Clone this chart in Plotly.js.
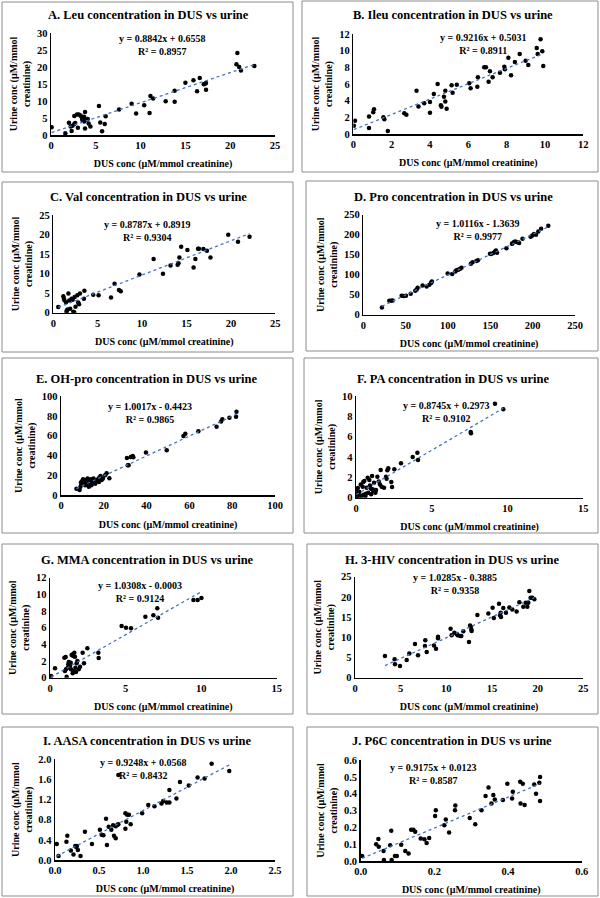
<!DOCTYPE html>
<html>
<head>
<meta charset="utf-8">
<script src="https://cdn.plot.ly/plotly-3.0.1.min.js"></script>
<style>html,body{margin:0;padding:0;background:#fff;}#chart{width:600px;height:898px;}</style>
</head>
<body>
<div id="chart"></div>
<script>
// ---------- DATA ----------
const panelTitles = [
  "A. Leu concentration in DUS vs urine",
  "B. Ileu concentration in DUS vs urine",
  "C. Val concentration in DUS vs urine",
  "D. Pro concentration in DUS vs urine",
  "E. OH-pro concentration in DUS vs urine",
  "F. PA concentration in DUS vs urine",
  "G. MMA concentration in DUS vs urine",
  "H. 3-HIV concentration in DUS vs urine",
  "I. AASA concentration in DUS vs urine",
  "J. P6C concentration in DUS vs urine"
];
const equations = [
  "y = 0.8842x + 0.6558", "y = 0.9216x + 0.5031", "y = 0.8787x + 0.8919",
  "y = 1.0116x - 1.3639", "y = 1.0017x - 0.4423", "y = 0.8745x + 0.2973",
  "y = 1.0308x - 0.0003", "y = 1.0285x - 0.3885", "y = 0.9248x + 0.0568",
  "y = 0.9175x + 0.0123"
];
const rSquared = ["0.8957","0.8911","0.9304","0.9977","0.9865","0.9102","0.9124","0.9358","0.8432","0.8587"];
const slopes = [0.8842, 0.9216, 0.8787, 1.0116, 1.0017, 0.8745, 1.0308, 1.0285, 0.9248, 0.9175];
const intercepts = [0.6558, 0.5031, 0.8919, -1.3639, -0.4423, 0.2973, -0.0003, -0.3885, 0.0568, 0.0123];
const xAxisTitle = "DUS conc (µM/mmol creatinine)";
const yAxisTitle = "Urine conc (µM/mmol<br>creatinine)";

const leuDUS = [0.07,1.6,2.0,2.2,2.3,2.4,2.6,2.7,2.6,3.0,3.1,3.3,3.4,3.5,3.5,3.6,3.7,3.8,3.7,3.9,4.1,4.2,4.4,3.8,2.9,5.35,5.5,5.7,6.0,6.1,7.6,9.0,9.5,10.4,11.0,11.1,11.4,12.8,13.8,13.8,15.0,15.9,16.3,16.6,17.05,17.2,17.3,17.3,20.8,20.7,21.0,21.2,22.7];
const leuUrine = [2.26,0.5,3.6,2.5,1.2,2.7,3.2,3.5,5.6,2.1,6.0,5.7,5.4,4.6,4.4,4.9,5.4,6.8,4.0,4.4,4.7,3.4,2.5,1.9,6.0,8.55,3.7,1.1,3.2,5.5,7.5,9.2,6.3,8.75,6.5,11.5,10.7,9.9,13.0,9.8,15.4,16.1,12.9,16.8,14.9,15.1,15.3,13.3,24.1,20.8,20.0,19.0,20.3];

const ileuDUS = [0.03,0.09,0.82,0.82,1.04,1.08,1.57,1.62,1.8,2.66,2.77,3.3,3.4,3.7,4.0,4.0,4.2,4.4,4.57,4.6,4.73,4.8,4.8,4.87,5.13,5.18,5.4,6.05,6.12,6.47,6.5,6.83,6.92,7.06,7.13,7.27,7.65,7.88,7.91,8.09,8.23,8.43,8.68,8.99,9.13,9.57,9.62,9.77,9.86,9.91];
const ileuUrine = [1.0,1.6,2.1,0.72,2.6,2.96,2.0,1.76,0.36,2.48,2.32,5.2,3.3,3.7,3.84,2.56,4.8,6.0,3.44,3.28,4.48,5.2,3.9,3.04,5.84,4.96,5.9,6.08,5.48,5.68,6.8,8.0,8.0,6.28,7.52,6.8,7.36,8.08,7.76,9.16,7.04,8.64,9.6,8.8,8.28,10.32,9.6,11.36,9.92,8.16];

const valDUS = [0.56,1.13,1.2,1.24,1.43,1.5,1.5,1.6,1.7,1.8,1.9,2.06,2.18,2.25,2.36,2.4,2.5,2.7,2.8,2.9,3.0,3.45,3.5,4.5,5.1,6.5,6.9,7.4,7.6,9.7,11.3,12.35,13.2,14.0,14.1,14.2,14.4,15.1,15.8,16.0,16.3,16.4,16.9,17.3,17.7,19.7,20.8,22.1];
const valUrine = [1.46,4.2,3.6,3.25,2.7,0.5,0.1,0.8,4.9,3.1,1.0,3.6,3.3,0.26,0.1,4.0,1.54,4.45,2.6,2.2,4.9,3.6,5.65,4.6,4.45,3.9,7.4,5.8,5.5,9.8,13.8,10.0,12.1,12.3,12.7,14.2,16.9,16.1,11.6,13.8,16.4,16.4,16.35,15.9,14.2,20.0,18.2,19.5];

const proDUS = [22,30.7,32.7,34.6,45.3,47.6,50.4,56,61.4,63,64.2,70,74.8,78,80,80.7,81,99.6,105,108.7,110,112,114,116,127,129,133.5,135.4,149.6,151,153.5,155.5,156.7,158,169,175.6,176,178,179.5,182,184,188,197.6,199.6,201.6,204,206.7,210,218.5];
const proUrine = [18.3,35,35,35.8,47.5,46.7,47.5,52.5,60,63.3,67.5,73.3,70.8,75,79,81.7,83,103.3,101.7,108,111,112.5,114,117.5,127.5,131,134,136,152.5,151.7,154,158,160.8,155,166,177.5,178,181.7,183,181,179,190,195,198,201.7,200,208,215,222.5];

const ohproDUS = [7.2,8.7,9.1,9.3,9.6,9.9,10.3,10.3,10.8,10.9,11.3,11.8,12.0,12.4,12.7,13.0,13.2,13.6,14.0,14.2,14.5,14.9,15.2,15.5,16.0,16.4,16.9,17.3,17.7,17.9,18.5,19.0,19.6,20.6,21.3,22.6,30.8,31.2,31.6,32.6,33.5,33.8,39.7,49.4,57.2,58.1,64.2,72.7,74.8,75.4,78.7,81.8,82.0];
const ohproUrine = [6.7,5.4,8.7,12.8,11.1,14.1,11.1,16.1,13.4,15.4,10.1,12.1,15.4,16.8,12.8,8.7,11.1,13.4,16.1,10.1,14.1,15.4,16.8,12.8,11.7,14.1,15.4,16.1,13.4,17.8,19.5,15.4,16.8,20.1,22.1,17.1,37.6,30.2,30.2,38.6,39.6,38.3,43,45.3,59.7,62.1,64.4,69.1,74.2,76.5,78.2,79.2,84.2];

const paDUS = [0.04,0.09,0.15,0.04,0.22,0.31,0.37,0.44,0.48,0.55,0.62,0.7,0.77,0.81,0.88,0.92,0.99,1.06,1.1,1.14,1.19,1.28,1.32,1.41,1.5,1.58,1.63,1.69,1.85,1.98,2.02,2.07,2.13,2.33,2.38,2.53,2.97,3.74,4.05,4.09,7.57,7.59,9.17,9.72,0.02,0.12,0.5,0.65,1.0];
const paUrine = [0.82,0.43,0.16,0.07,0.56,1.31,0.16,1.08,1.54,1.64,0.16,0.98,1.97,0.49,1.74,1.21,0.89,2.13,0.82,0.66,1.48,0.49,0.75,2.07,1.6,1.31,2.72,1.08,0.98,2.07,1.87,2.69,2.89,1.54,1.05,2.79,3.38,4.0,4.43,3.7,6.46,6.33,9.25,8.69,0.35,0.95,0.3,0.4,0.35];

const mmaDUS = [0.07,0.33,0.95,1.04,0.99,1.06,1.1,1.17,1.21,1.24,1.32,1.37,1.39,1.43,1.5,1.54,1.5,1.54,1.61,1.65,1.68,1.72,1.76,1.81,1.9,1.99,2.16,2.25,2.47,3.2,3.22,4.74,5.03,5.36,6.31,6.84,7.1,7.15,9.49,9.77,10.02];
const mmaUrine = [0.2,1.12,2.4,2.48,0.8,1.0,0.12,1.2,1.6,1.88,1.4,1.8,1.0,2.72,2.8,2.6,0.52,0.8,3.0,2.52,1.2,0.68,1.72,2.0,1.0,1.32,3.0,1.72,3.52,3.0,2.36,6.2,6.0,5.92,7.32,7.48,8.32,7.2,9.32,9.32,9.56];

const hivDUS = [3.28,4.34,4.38,4.93,5.66,5.95,6.57,6.9,7.7,7.66,7.85,8.65,8.87,9.09,9.09,10.47,10.58,10.88,11.13,11.24,11.5,11.64,11.86,12.48,12.6,12.7,12.74,12.77,13.4,14.6,15.07,15.2,15.77,15.88,15.99,15.95,16.24,16.53,16.9,17.23,17.7,18.0,18.43,18.69,18.87,18.98,19.09,19.23,19.42,19.64];
const hivUrine = [5.36,4.54,3.3,2.89,4.37,6.02,8.33,5.53,9.24,7.84,6.35,8.0,7.18,10.15,9.74,12.13,10.48,11.14,10.81,10.48,10.3,10.3,11.47,8.83,12.95,12.62,11.96,11.55,15.5,15.9,17.3,14.77,18.3,15.43,15.02,16.09,17.24,16.09,17.4,16.9,16.4,18.7,17.57,18.56,17.57,18.56,21.45,19.8,19.8,19.39];

const aasaDUS = [0.02,0.04,0.13,0.14,0.18,0.21,0.23,0.24,0.25,0.26,0.29,0.34,0.42,0.51,0.53,0.55,0.58,0.59,0.61,0.64,0.66,0.67,0.69,0.69,0.71,0.72,0.72,0.8,0.8,0.82,0.84,0.81,0.86,0.99,1.06,1.13,1.21,1.23,1.27,1.3,1.3,1.38,1.42,1.52,1.62,1.7,1.78,1.98];
const aasaUrine = [0.32,0.08,0.36,0.48,0.19,0.11,0.28,0.26,0.28,0.2,0.08,0.56,0.32,0.6,0.5,0.49,0.82,0.3,0.66,0.6,0.69,0.48,0.43,0.67,0.7,0.71,1.69,0.62,0.93,0.9,0.9,0.76,0.71,0.93,1.09,1.07,1.12,1.17,1.14,1.39,1.14,1.22,1.55,1.48,1.64,1.62,1.91,1.77];

const p6cDUS = [0.004,0.042,0.048,0.049,0.062,0.063,0.08,0.083,0.084,0.093,0.098,0.11,0.121,0.13,0.137,0.143,0.148,0.163,0.173,0.179,0.186,0.202,0.204,0.227,0.231,0.24,0.256,0.257,0.296,0.311,0.328,0.339,0.347,0.355,0.36,0.364,0.386,0.398,0.411,0.413,0.433,0.434,0.44,0.445,0.471,0.476,0.485,0.487,0.487];
const p6cUrine = [0.03,0.1,0.13,0.085,0.06,0.006,0.093,0.18,0.006,0.03,0.03,0.097,0.059,0.044,0.186,0.186,0.174,0.133,0.129,0.107,0.137,0.267,0.301,0.212,0.246,0.17,0.301,0.329,0.255,0.218,0.301,0.386,0.436,0.341,0.392,0.366,0.362,0.459,0.372,0.412,0.471,0.341,0.459,0.333,0.455,0.4,0.465,0.499,0.356];

const xRanges = [[0,25],[0,12],[0,25],[0,250],[0,100],[0,15],[0,15],[0,25],[0,2.5],[0,0.6]];
const yRanges = [[0,30],[0,12],[0,25],[0,250],[0,100],[0,10],[0,12],[0,25],[0,2.0],[0,0.6]];
const xDticks = [5,2,5,50,20,5,5,5,0.5,0.2];
const yDticks = [5,2,5,50,20,2,2,5,0.4,0.1];
const xFormats = ["","","","","","","","",".1f",".1f"];
const yFormats = ["","","","","","","","",".1f",".1f"];

const dusSeries = [leuDUS, ileuDUS, valDUS, proDUS, ohproDUS, paDUS, mmaDUS, hivDUS, aasaDUS, p6cDUS];
const urineSeries = [leuUrine, ileuUrine, valUrine, proUrine, ohproUrine, paUrine, mmaUrine, hivUrine, aasaUrine, p6cUrine];

// ---------- LAYOUT GEOMETRY (pixels) ----------
const W = 600, H = 898;
const plotPx = [[51,275],[353.3,583.3],[53.3,275.3],[363.3,575],[61,275],[356,583.3],[50,276.7],[355,583.3],[55,275],[360.7,581.7]];
const plotPy = [[33,135],[34,134],[215.3,312.7],[214.7,314.7],[396,495.3],[396,497.7],[577.7,677.7],[576.7,677.7],[759.3,860],[760,861]];
const boxes = [[2,2,293,172],[302,1,598,172],[2,182,293,352],[306,181,598,351],[2,358,293,533],[304,358,598,533],[2,544,293,714],[307,544,598,714],[2,727,293,896],[307,727,598,896]];
const titlePos = [[148,15],[453,15],[148,197],[453,197],[146,379],[453,379],[147,560],[452,560],[147,741],[452,741]];
const eqPos = [[162,45],[483,43.5],[147,231.3],[477,230.3],[150,413.2],[446,411.8],[140,591.8],[455,584.3],[143,768.8],[433,774.3]];

const px = v => v / W;
const py = v => 1 - v / H;

const traces = [];
const layout = {
  width: W, height: H,
  margin: {l:0, r:0, t:0, b:0},
  paper_bgcolor: '#fff', plot_bgcolor: '#fff',
  showlegend: false,
  font: {family: 'Liberation Serif, "Times New Roman", serif', size: 10, color: '#000', weight: 'bold'},
  annotations: [], shapes: []
};

for (let i = 0; i < 10; i++) {
  const s = i === 0 ? '' : String(i + 1);
  const xs = dusSeries[i], ys = urineSeries[i];
  traces.push({
    type: 'scatter', mode: 'markers', x: xs, y: ys, xaxis: 'x' + s, yaxis: 'y' + s,
    marker: {color: '#000', size: 4.5}, hoverinfo: 'x+y'
  });
  const xmin = Math.min(...xs), xmax = Math.max(...xs);
  traces.push({
    type: 'scatter', mode: 'lines', x: [xmin, xmax],
    y: [slopes[i] * xmin + intercepts[i], slopes[i] * xmax + intercepts[i]],
    xaxis: 'x' + s, yaxis: 'y' + s,
    line: {color: '#4472C4', width: 1.3, dash: 'dot'}, hoverinfo: 'skip'
  });
  layout['xaxis' + s] = {
    domain: [px(plotPx[i][0]), px(plotPx[i][1])], anchor: 'y' + s,
    range: xRanges[i], dtick: xDticks[i], tick0: 0, tickformat: xFormats[i],
    showgrid: false, zeroline: false, showline: true, linecolor: '#000', linewidth: 1.5,
    ticks: '', tickfont: {size: 10.5}, automargin: false, fixedrange: true,
    title: {text: xAxisTitle, font: {size: 10}, standoff: 10}
  };
  layout['yaxis' + s] = {
    domain: [py(plotPy[i][1]), py(plotPy[i][0])], anchor: 'x' + s,
    range: yRanges[i], dtick: yDticks[i], tick0: 0, tickformat: yFormats[i],
    showgrid: false, zeroline: false, showline: true, linecolor: '#000', linewidth: 1.5,
    ticks: '', tickfont: {size: 10.5}, automargin: false, fixedrange: true,
    title: {text: yAxisTitle, font: {size: 10}, standoff: 4}
  };
  layout.shapes.push({
    type: 'rect', xref: 'paper', yref: 'paper',
    x0: px(boxes[i][0]), x1: px(boxes[i][2]), y0: py(boxes[i][3]), y1: py(boxes[i][1]),
    line: {color: '#8c8c8c', width: 1}, fillcolor: 'rgba(0,0,0,0)', layer: 'below'
  });
  layout.annotations.push({
    xref: 'paper', yref: 'paper', x: px(titlePos[i][0]), y: py(titlePos[i][1]),
    xanchor: 'center', yanchor: 'middle', showarrow: false,
    text: panelTitles[i], font: {size: 12.5}
  });
  layout.annotations.push({
    xref: 'paper', yref: 'paper', x: px(eqPos[i][0]), y: py(eqPos[i][1]),
    xanchor: 'center', yanchor: 'middle', showarrow: false, align: 'center',
    text: equations[i] + '<br>R² = ' + rSquared[i], font: {size: 10}
  });
}

Plotly.newPlot('chart', traces, layout, {staticPlot: true, displayModeBar: false});
</script>
</body>
</html>
